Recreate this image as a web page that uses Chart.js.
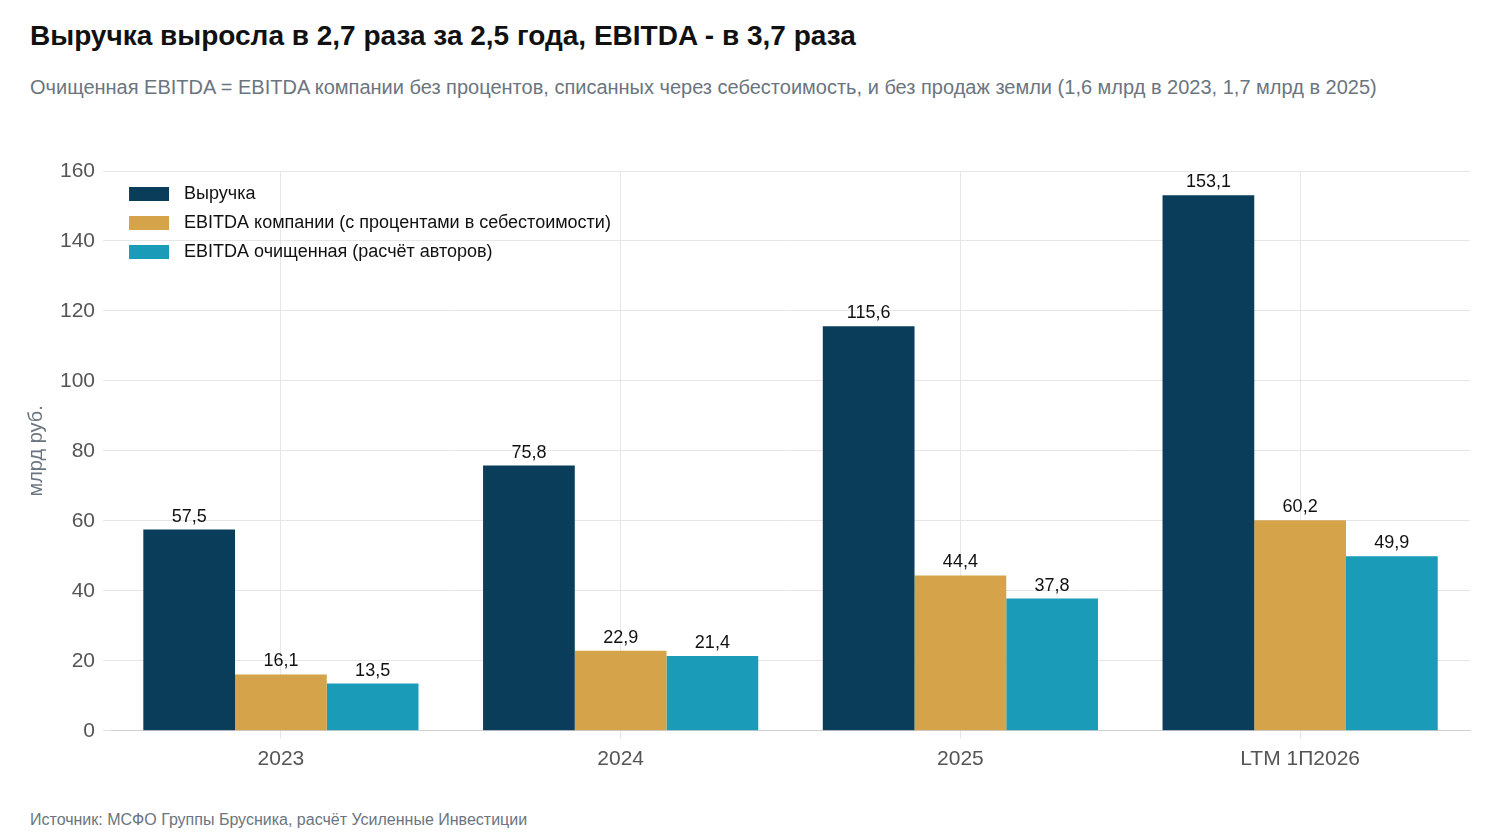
<!DOCTYPE html>
<html><head><meta charset="utf-8">
<script src="https://cdn.jsdelivr.net/npm/chart.js@4"></script>
<style>
body{margin:0;width:1500px;height:840px;background:#fff;font-family:Arial,"Liberation Sans",sans-serif;position:relative;overflow:hidden}
#title{position:absolute;left:30px;top:20px;font-size:28px;font-weight:bold;color:#111}
#sub{position:absolute;left:30px;top:76px;font-size:20px;color:#6b7580;white-space:nowrap}
#foot{position:absolute;left:30px;top:811px;font-size:16px;color:#6b7580}
#wrap{position:absolute;left:0;top:130px;width:1500px;height:670px}
</style></head><body>
<div id="title">Выручка выросла в 2,7 раза за 2,5 года, EBITDA - в 3,7 раза</div>
<div id="sub">Очищенная EBITDA = EBITDA компании без процентов, списанных через себестоимость, и без продаж земли (1,6 млрд в 2023, 1,7 млрд в 2025)</div>
<div id="wrap"><canvas id="c"></canvas></div>
<div id="foot">Источник: МСФО Группы Брусника, расчёт Усиленные Инвестиции</div>
<script>
var categories = ['2023', '2024', '2025', 'LTM 1П2026'];
var revenue = [57.5, 75.8, 115.6, 153.1];
var ebitdaCompany = [16.1, 22.9, 44.4, 60.2];
var ebitdaClean = [13.5, 21.4, 37.8, 49.9];
var seriesLabels = ['Выручка', 'EBITDA компании (с процентами в себестоимости)', 'EBITDA очищенная (расчёт авторов)'];
var seriesColors = ['#0a3d5a', '#d4a34a', '#1a9bb7'];

function fmt(v) { return v.toFixed(1).replace('.', ','); }

var valueLabels = {
    id: 'valueLabels',
    afterDatasetsDraw: function (chart) {
        var ctx = chart.ctx;
        ctx.save();
        ctx.font = '18px Arial, "Liberation Sans"';
        ctx.fillStyle = '#111';
        ctx.textAlign = 'center';
        ctx.textBaseline = 'bottom';
        chart.data.datasets.forEach(function (ds, i) {
            chart.getDatasetMeta(i).data.forEach(function (bar, j) {
                ctx.fillText(fmt(ds.data[j]), bar.x, bar.y - 4);
            });
        });
        ctx.restore();
    }
};

var innerLegend = {
    id: 'innerLegend',
    afterDraw: function (chart) {
        var ctx = chart.ctx, a = chart.chartArea;
        ctx.save();
        ctx.font = '18px Arial, "Liberation Sans"';
        ctx.textBaseline = 'middle';
        chart.data.datasets.forEach(function (ds, i) {
            var y = a.top + 23 + i * 29;
            ctx.fillStyle = ds.backgroundColor;
            ctx.fillRect(a.left + 18, y - 7, 40, 14);
            ctx.fillStyle = '#111';
            ctx.fillText(ds.label, a.left + 73, y);
        });
        ctx.restore();
    }
};

new Chart(document.getElementById('c'), {
    type: 'bar',
    data: {
        labels: categories,
        datasets: [revenue, ebitdaCompany, ebitdaClean].map(function (d, i) {
            return { label: seriesLabels[i], data: d, backgroundColor: seriesColors[i],
                categoryPercentage: 0.81, barPercentage: 1 };
        })
    },
    plugins: [valueLabels, innerLegend],
    options: {
        responsive: true, maintainAspectRatio: false, animation: false,
        layout: { padding: { left: 20, right: 30, top: 41, bottom: 20 } },
        plugins: { legend: { display: false }, tooltip: { enabled: false } },
        scales: {
            x: {
                grid: { offset: false, color: '#e6e6e6' },
                border: { color: '#d0d0d0' },
                ticks: { color: '#555', font: { size: 21, family: 'Arial' }, padding: 8 }
            },
            y: {
                min: 0, max: 160,
                ticks: { stepSize: 20, color: '#555', font: { size: 21, family: 'Arial' }, padding: 8 },
                grid: { color: '#e6e6e6' },
                border: { display: false },
                title: { display: true, text: 'млрд руб.', color: '#6b7580', font: { size: 20, family: 'Arial' } }
            }
        }
    }
});
</script>
</body></html>
